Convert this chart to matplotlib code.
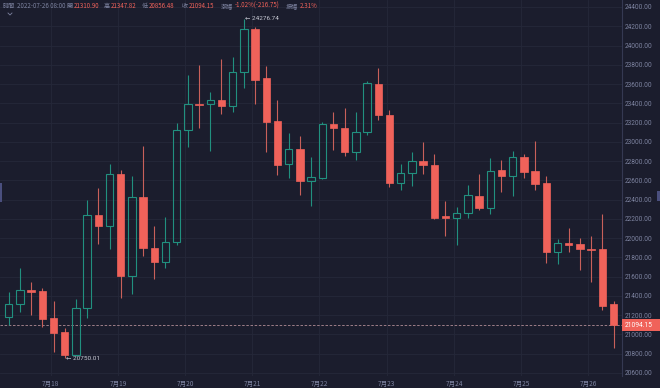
import matplotlib
matplotlib.use("Agg")
import matplotlib.pyplot as plt
from matplotlib.patches import Rectangle
import numpy as np

# ---- data (4h candles, 2022-07-17 08:00 .. 2022-07-26 08:00) ----
opens = [21181, 21313, 21458, 21451, 21167, 21022, 20786, 21271, 22240, 22126,
         22666, 21603, 22424, 21894, 21756, 21963, 23119, 23389, 23389, 23431,
         23375, 23722, 24171, 23659, 23216, 22766, 22925, 22593, 22621, 23188,
         23140, 22898, 23105, 23604, 23278, 22572, 22676, 22801, 22759, 22226,
         22205, 22261, 22441, 22316, 22704, 22649, 22842, 22697, 22572, 21852,
         21949, 21935, 21887, 21887, 21310.90]
highs = [21444, 21686, 21541, 21486, 21347, 21070, 21368, 22392, 22517, 22773,
         22704, 22642, 22953, 22129, 22219, 23192, 23694, 23798, 23521, 23860,
         23881, 24276.74, 24192, 23791, 23431, 23092, 23064, 22842, 23209, 23306,
         23348, 23306, 23632, 23770, 23334, 22773, 22898, 22995, 22877, 22386,
         22323, 22552, 22669, 22828, 22815, 22905, 22877, 23008, 22649, 21991,
         22109, 21998, 22026, 22254, 21347.82]
lows = [21098, 21229, 21202, 21077, 20821, 20750.01, 20780, 21167, 21935, 21887,
        21382, 21423, 21811, 21576, 21693, 21929, 22946, 23140, 22905, 23292,
        23306, 23562, 23396, 22898, 22655, 22628, 22448, 22330, 22614, 22919,
        22856, 22808, 23071, 23223, 22531, 22496, 22545, 22662, 22199, 22026,
        21929, 22212, 22289, 22247, 22475, 22441, 22621, 22503, 21742, 21735,
        21852, 21666, 21541, 21250, 20856.48]
closes = [21313, 21461, 21444, 21160, 21011, 20786, 21271, 22240, 22126, 22666,
          21603, 22424, 21894, 21756, 21963, 23126, 23396, 23379, 23431, 23368,
          23722, 24171, 23645, 23209, 22759, 22925, 22593, 22635, 23188, 23140,
          22898, 23105, 23611, 23278, 22572, 22676, 22801, 22759, 22212, 22205,
          22261, 22448, 22316, 22697, 22649, 22842, 22690, 22566, 21852, 21949,
          21929, 21887, 21873, 21292, 21094.15]
day_labels = ["7月18", "7月19", "7月20", "7月21", "7月22", "7月23", "7月24", "7月25", "7月26"]
day_index = [4, 10, 16, 22, 28, 34, 40, 46, 52]
y_ticks = list(range(20600, 24401, 200))
max_price = 24276.74
min_price = 20750.01
last_price = 21094.15

header_parts = [("時間", 3, "g"), ("2022-07-26 08:00", 17, "g"), ("開", 65, "g"),
                ("21310.90", 71, "r"), ("高", 104, "g"), ("21347.82", 110, "r"),
                ("低", 142, "g"), ("20856.48", 148, "r"), ("收", 182, "g"),
                ("21094.15", 188, "r"), ("漲幅", 221, "g"), ("-1.02%(-216.75)", 235, "r"),
                ("振幅", 286, "g"), ("2.31%", 299, "r")]

# ---- style ----
BG = "#1b1d2d"
GRID = "#252839"
UP = "#21907f"
DOWN = "#f0625a"
DOWN_WICK = "#c8605a"
AXTXT = "#7d83a0"
FAM = ["Noto Sans CJK TC", "DejaVu Sans"]

W, H = 660, 388
fig = plt.figure(figsize=(W / 100, H / 100), dpi=100, facecolor=BG)
ax_right = 622
ax_bottom = 376
ax = fig.add_axes([0, (H - ax_bottom) / H, ax_right / W, ax_bottom / H])
ax.set_facecolor(BG)

# pixel mapping
spacing = 11.2
x0 = 8.7
ax.set_xlim(-x0 / spacing, (ax_right - x0) / spacing)
ppx = 200 / 19.26
ax.set_ylim(24400 - (ax_bottom - 7) * ppx, 24400 + 7 * ppx)

# grid
for yt in y_ticks:
    ax.axhline(yt, color=GRID, lw=0.6, zorder=0)
for di in day_index:
    ax.axvline(di - 0.25, color=GRID, lw=0.6, zorder=0)

bw = 0.66
for i, (o, h, l, c) in enumerate(zip(opens, highs, lows, closes)):
    up = c >= o
    top, bot = max(o, c), min(o, c)
    if up:
        ax.vlines(i, top, h, color=UP, lw=0.8, zorder=2)
        ax.vlines(i, l, bot, color=UP, lw=0.8, zorder=2)
        ax.add_patch(Rectangle((i - bw / 2, bot), bw, max(top - bot, 8),
                               facecolor="none", edgecolor=UP, lw=0.8, zorder=3))
    else:
        ax.vlines(i, l, h, color=DOWN_WICK, lw=0.8, zorder=2)
        ax.add_patch(Rectangle((i - bw / 2, bot), bw, max(top - bot, 10),
                               facecolor=DOWN, edgecolor=DOWN, lw=0.5, zorder=3))

# last price dashed line
ax.axhline(last_price, color="#b28d96", lw=0.6, ls=(0, (3, 2)), zorder=1)

# max/min annotations
imax = int(np.argmax(highs))
imin = int(np.argmin(lows))
ax.text(imax + 0.1, max_price, "\u2190 %.2f" % max_price, color="#c9cbd6", fontsize=4.6,
        va="center", ha="left", family=["Roboto", "DejaVu Sans"], zorder=5)
ax.text(imin + 0.15, min_price, "\u2190 %.2f" % min_price, color="#c9cbd6", fontsize=4.6,
        va="center", ha="left", family=["Roboto", "DejaVu Sans"], zorder=5)

# axes
for s in ["top", "left", "bottom"]:
    ax.spines[s].set_visible(False)
ax.spines["right"].set_color("#353952")
ax.spines["right"].set_linewidth(0.8)
ax.yaxis.tick_right()
ax.set_yticks(y_ticks)
ax.set_yticklabels(["%.2f" % v for v in y_ticks])
ax.tick_params(axis="y", length=0, pad=2.2, labelsize=4.7, labelcolor=AXTXT)
ax.set_xticks([d - 0.25 for d in day_index])
ax.set_xticklabels(day_labels)
ax.tick_params(axis="x", length=0, pad=3.2, labelsize=4.7, labelcolor=AXTXT)
for lab in ax.get_yticklabels():
    lab.set_family(["Roboto", "DejaVu Sans"])
for lab in ax.get_xticklabels():
    lab.set_family(FAM)

# last price label box
yfrac = ((last_price - ax.get_ylim()[0]) / (ax.get_ylim()[1] - ax.get_ylim()[0])) * (ax_bottom / H) + (H - ax_bottom) / H
fig.patches.append(Rectangle((ax_right / W, yfrac - 6 / H), 38 / W, 12 / H,
                             transform=fig.transFigure, facecolor=DOWN, edgecolor="none", zorder=5))
fig.text((ax_right + 3) / W, yfrac, "%.2f" % last_price, color="white", fontsize=4.8,
         va="center", ha="left", family=["Roboto", "DejaVu Sans"], zorder=6)

# small side handles
fig.patches.append(Rectangle((0, (H - 202) / H), 2 / W, 19 / H, transform=fig.transFigure,
                             facecolor="#4a4f7e", edgecolor="none"))
fig.patches.append(Rectangle((657 / W, (H - 201) / H), 3 / W, 10 / H, transform=fig.transFigure,
                             facecolor="#4a4f7e", edgecolor="none"))

# header: place pieces left to right without overlap
renderer = fig.canvas.get_renderer()
cur = 0
for txt, xp, col in header_parts:
    xpos = max(xp, cur + 1)
    t = fig.text(xpos / W, 1 - 6 / H, txt, color=(AXTXT if col == "g" else DOWN), fontsize=4.4,
                 va="center", ha="left", family=FAM)
    bb = t.get_window_extent(renderer=renderer)
    cur = bb.x1
fig.lines.append(plt.Line2D([8 / W, 10 / W, 12 / W], [1 - 13 / H, 1 - 15 / H, 1 - 13 / H],
                            transform=fig.transFigure, color=AXTXT, lw=0.6))

fig.savefig("out.png", dpi=100, facecolor=BG)
